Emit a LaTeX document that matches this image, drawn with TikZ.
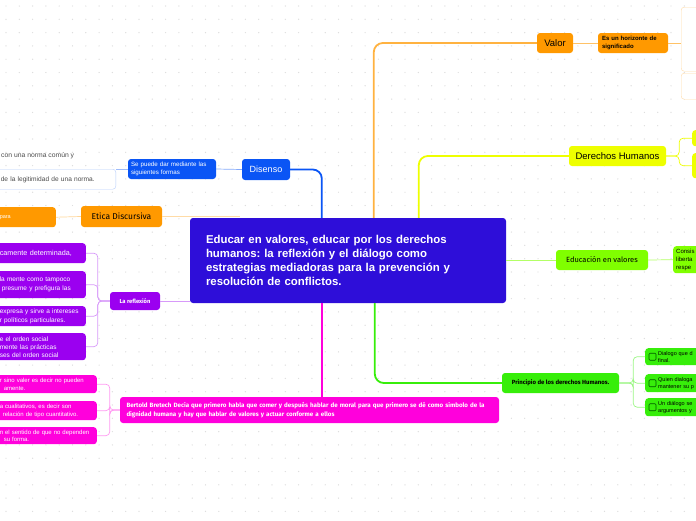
\documentclass[tikz,border=0pt]{standalone}
\usepackage{fontspec}
\setmainfont{Liberation Sans}
\newfontfamily\firafont{Fira Sans}
\usepackage{xcolor}
\usepackage{tikz}
\definecolor{central}{RGB}{46,14,217}
\definecolor{disblue}{RGB}{10,85,245}
\definecolor{naranja}{RGB}{255,153,0}
\definecolor{morado}{RGB}{155,0,240}
\definecolor{fucsia}{RGB}{255,0,220}
\definecolor{amarillo}{RGB}{238,255,0}
\definecolor{lima}{RGB}{128,255,0}
\definecolor{verde}{RGB}{55,238,10}
\definecolor{punto}{RGB}{222,222,222}
\frenchspacing

\tikzset{
  caja/.style={rectangle,rounded corners=3pt,inner sep=2pt},
  hoja/.style={caja,align=left,inner xsep=3pt},
  rama/.style={line width=1.8pt,rounded corners=9pt},
  sub/.style={line width=0.7pt,rounded corners=4pt},
  chk/.style={draw=green!35!black,rounded corners=1pt,minimum size=7pt,inner sep=0pt,line width=0.6pt},
}

\begin{document}
\begin{tikzpicture}[x=1pt,y=-1pt]
\useasboundingbox (0,0) rectangle (696,520);
\foreach \i in {0,...,52}
  \foreach \j in {0,...,39}
    \fill[punto] (6+\i*13.3,6+\j*13.3) circle (0.7pt);
\clip (0,0) rectangle (696,520);

% central topic
\node[caja,fill=central,text=white,font=\fontsize{11.4}{14}\selectfont\bfseries,
  minimum width=316pt,minimum height=85pt,text width=284pt,inner xsep=16pt,align=left] (centro) at (348,260.5)
  {Educar en valores, educar por los derechos\\humanos: la reflexión y el diálogo como\\estrategias mediadoras para la prevención y\\resolución de conflictos.};

% left side
\node[caja,fill=disblue,text=white,font=\fontsize{9}{11}\selectfont,minimum width=48pt,minimum height=21pt] (disenso) at (266,169.5) {Disenso};
\node[hoja,fill=disblue,text=white,font=\fontsize{6.2}{8}\selectfont,minimum height=20pt,text width=82pt] (formas) at (172,169) {Se puede dar mediante las\\siguientes formas};
\node[anchor=west,text=gray!60!black,font=\fontsize{6.8}{8}\selectfont,inner sep=0pt] (forma1) at (1,156) {con una norma común y};
\node[hoja,draw=disblue!30,fill=white,text=gray!60!black,font=\fontsize{6.6}{8}\selectfont,anchor=north east,minimum height=20pt,text width=111pt,inner xsep=4pt] (forma2) at (116,169) {\\[-3pt]de la legitimidad de una norma.};

\node[caja,fill=naranja,font=\firafont\fontsize{8.5}{10}\selectfont,minimum width=81pt,minimum height=21pt] (etica) at (121.5,216.5) {Etica Discursiva};
\node[hoja,fill=naranja,text=white,font=\fontsize{5.5}{6}\selectfont,anchor=north east,minimum height=20pt,text width=53pt,inner ysep=4pt] (eticahijo) at (56,207) {para\\[4pt]};

\node[caja,fill=morado,text=white,font=\firafont\bfseries\fontsize{5.8}{7}\selectfont,minimum width=50pt,minimum height=18pt] (reflexion) at (135,301) {La reflexión};
\node[hoja,fill=morado,text=white,font=\fontsize{7.2}{9}\selectfont,anchor=north east,minimum height=20pt,text width=83pt] (refl1) at (86,243) {camente determinada,\\[3pt]};
\node[hoja,fill=morado,text=white,font=\fontsize{6.5}{9}\selectfont,anchor=north east,minimum height=27pt,text width=83pt] (refl2) at (86,271) {la mente como tampoco\\\hspace*{2pt}presume y prefigura las};
\node[hoja,fill=morado,text=white,font=\fontsize{6.5}{8.5}\selectfont,anchor=north east,minimum height=20pt,text width=83pt] (refl3) at (86,306) {expresa y sirve a intereses\\r políticos particulares.};
\node[hoja,fill=morado,text=white,font=\fontsize{6.5}{8}\selectfont,anchor=north east,minimum height=27pt,text width=83pt] (refl4) at (86,333) {e el orden social\\mente las prácticas\\ses del orden social};

\node[hoja,fill=fucsia,text=white,font=\firafont\bfseries\fontsize{6.2}{9}\selectfont,minimum width=379pt,minimum height=26pt,text width=366pt,inner xsep=6pt] (bertold) at (309.5,410)
  {Bertold Bretech Decia que primero habla que comer y después hablar de moral para que primero se dé como simbolo de la\\dignidad humana y hay que hablar de valores y actuar conforme a ellos};
\node[hoja,fill=fucsia,text=white,font=\fontsize{6}{7.5}\selectfont,anchor=north east,minimum height=18pt,text width=94pt] (bert1) at (97,375) {r sino valer es decir no pueden\\\hspace*{4pt}amente.};
\node[hoja,fill=fucsia,text=white,font=\fontsize{6}{7.5}\selectfont,anchor=north east,minimum height=19pt,text width=94pt] (bert2) at (97,401) {a cualitativos, es decir son\\\hspace*{3pt}relación de tipo cuantitativo.};
\node[hoja,fill=fucsia,text=white,font=\fontsize{6}{7.5}\selectfont,anchor=north east,minimum height=17pt,text width=94pt] (bert3) at (97,427) {n el sentido de que no dependen\\\hspace*{4pt}su forma.};

% right side
\node[caja,fill=naranja,font=\fontsize{9.5}{11}\selectfont,minimum width=36pt,minimum height=20pt] (valor) at (555,43) {Valor};
\node[hoja,fill=naranja,font=\bfseries\fontsize{6}{7.5}\selectfont,minimum height=20pt,text width=62pt,inner xsep=4pt] (horizonte) at (633,43) {Es un horizonte de\\significado};
\node[caja,draw=naranja!35,fill=white,anchor=north west,minimum width=40pt,minimum height=64pt] (horiz1) at (681,7) {};
\node[caja,draw=naranja!35,fill=white,anchor=north west,minimum width=40pt,minimum height=26pt] (horiz2) at (681,73) {};

\node[caja,fill=amarillo,font=\fontsize{9.5}{11}\selectfont,minimum width=97pt,minimum height=20pt] (derechos) at (617.5,156) {Derechos Humanos};
\node[caja,fill=amarillo,anchor=north west,minimum width=30pt,minimum height=16pt] (der1) at (692,130) {};
\node[caja,fill=amarillo,anchor=north west,minimum width=30pt,minimum height=25pt] (der2) at (692,153) {};

\node[caja,fill=lima,font=\firafont\fontsize{7.5}{9}\selectfont,minimum width=92pt,minimum height=20pt] (educacion) at (602,260) {Educación en valores};
\node[hoja,fill=lima,font=\fontsize{6}{8}\selectfont,anchor=north west,minimum height=27pt,text width=40pt] (eduhijo) at (673,246) {Consis\\liberta\\respe};

\node[caja,fill=verde,font=\firafont\bfseries\fontsize{6}{8}\selectfont,minimum width=117pt,minimum height=20pt] (principio) at (560.5,383) {Principio de los derechos Humanos.};
\node[hoja,fill=verde,font=\fontsize{5.5}{7}\selectfont,anchor=north west,minimum height=17pt,text width=50pt,inner xsep=13pt] (prin1) at (645,348) {Dialogo que d\\final.};
\node[hoja,fill=verde,font=\fontsize{5.5}{7}\selectfont,anchor=north west,minimum height=18pt,text width=50pt,inner xsep=13pt] (prin2) at (645,374) {Quien dialoga\\mantener su p};
\node[hoja,fill=verde,font=\fontsize{5.5}{7}\selectfont,anchor=north west,minimum height=18pt,text width=50pt,inner xsep=13pt] (prin3) at (645,398) {Un diálogo se\\argumentos y};
\foreach \n in {1,2,3}
  \node[chk,xshift=7.5pt] (chk\n) at (prin\n.west) {};

% main branches
\draw[rama,draw=disblue] (centro.north west) ++(132,0) |- (disenso.east);
\draw[rama,draw=naranja!75] (centro.north west) ++(184,0) |- (valor.west);
\draw[rama,draw=amarillo] (centro.north west) ++(229,0) |- (derechos.west);
\draw[rama,draw=verde] (centro.south west) ++(185,0) |- (principio.west);
\draw[rama,draw=fucsia] (centro.south west) ++(132,0) coordinate (magtop) -- (magtop |- bertold.north);
\draw[line width=1pt,draw=lima!60] (educacion.west -| centro.east) -- (educacion.west);
\draw[line width=1pt,draw=naranja!35] (etica.east) -- ++(78,0);
\draw[line width=1pt,draw=morado!40] (reflexion.east) -- (reflexion.east -| centro.west);

% sub branches
\draw[sub,draw=disblue!50] (disenso.west) -- (formas.east);
\draw[sub,draw=disblue!40] (formas.west) -- (formas.west -| forma2.east);
\draw[sub,draw=naranja!40] (etica.west) -- (eticahijo.east);
\foreach \n in {refl1,refl2,refl3,refl4}
  \draw[sub,draw=morado!40] (reflexion.west) -- ++(-12,0) |- (\n.east);
\foreach \n in {bert1,bert2,bert3}
  \draw[sub,draw=fucsia!40] (bertold.west) -- ++(-10,0) |- (\n.east);
\draw[sub,draw=naranja!60] (valor.east) -- (horizonte.west);
\draw[sub,draw=naranja!60] (horizonte.east) -- (horizonte.east -| horiz1.west);
\foreach \n in {der1,der2}
  \draw[sub,draw=amarillo] (derechos.east) -- ++(13,0) |- (\n.west);
\draw[sub,draw=lima!60] (educacion.east) -- (eduhijo.west);
\foreach \n in {prin1,prin2,prin3}
  \draw[sub,draw=verde!50] (principio.east) -- ++(14,0) |- (\n.west);
\end{tikzpicture}
\end{document}
